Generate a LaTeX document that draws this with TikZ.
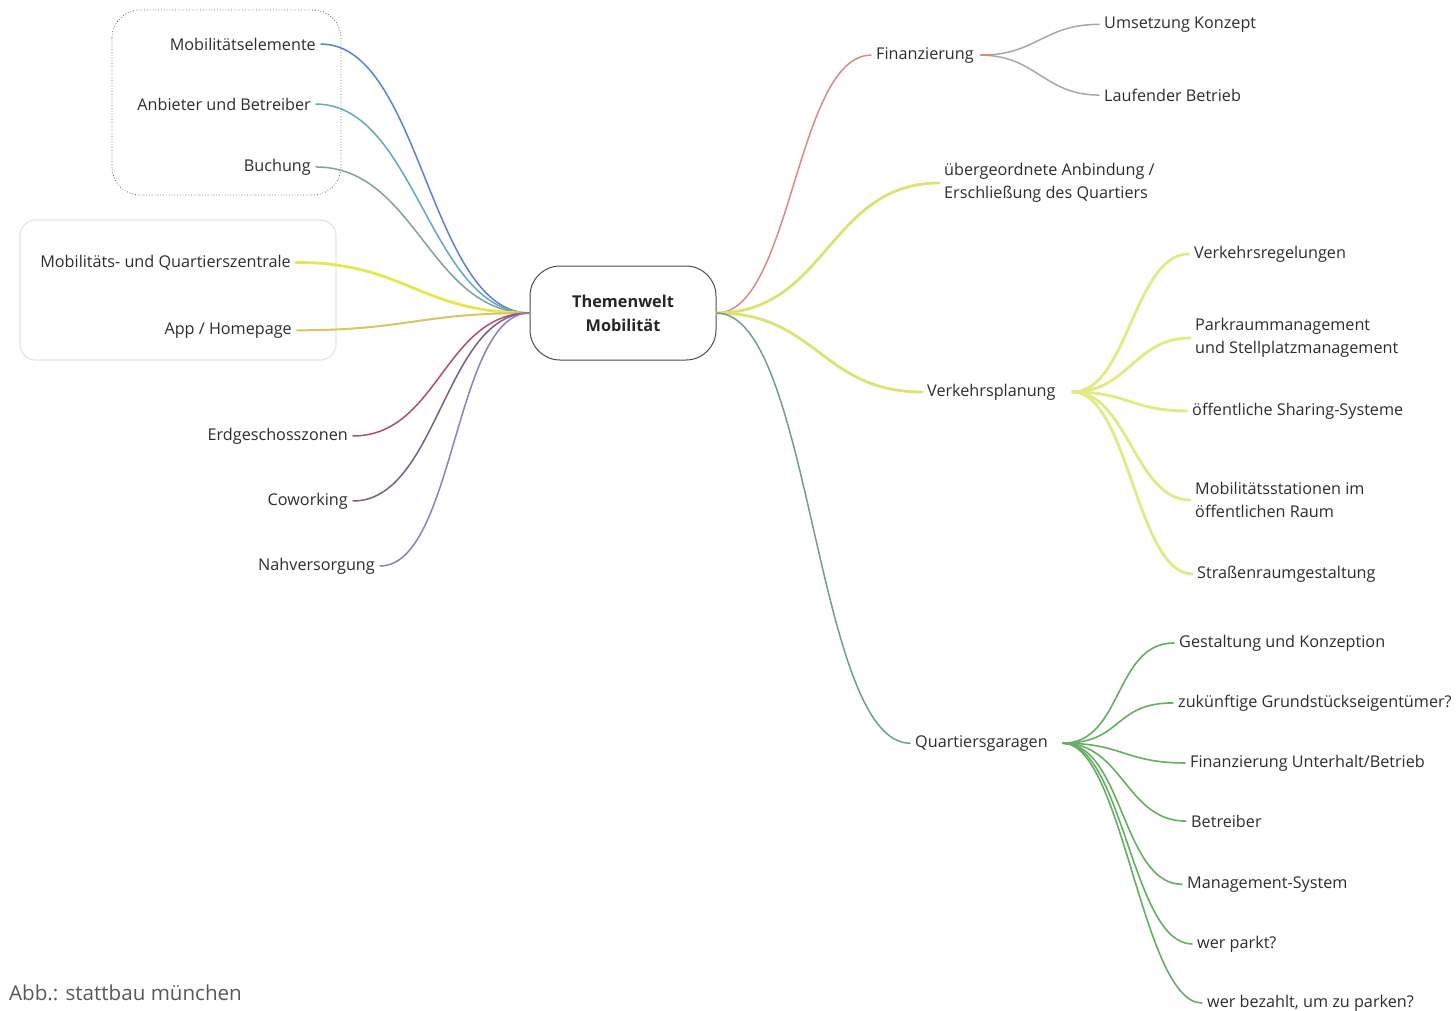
\documentclass[tikz,border=0pt]{standalone}
\usepackage{fontspec}
\setmainfont{Open Sans}
\begin{document}
\begin{tikzpicture}[x=1pt,y=-1pt,
  lbl/.style={font=\fontsize{16.2}{23}\selectfont, text=black!82, inner xsep=5pt, inner ysep=2pt, yshift=-3.5pt},
  lft/.style={lbl, anchor=mid east},
  rgt/.style={lbl, anchor=mid west},
  rgt2/.style={lbl, anchor=west, align=left, yshift=3.5pt},
  conn/.style={line width=1.5pt, line cap=round},
  thick2/.style={line width=2.8pt, line cap=round},
  ctr/.style={draw=black!70, line width=1pt, rounded corners=30pt, minimum width=186pt, minimum height=94pt, align=center, font=\fontsize{16.3}{24}\selectfont\bfseries, text=black!85}]
\definecolor{cblue}{HTML}{5C80D8}
\definecolor{cteal}{HTML}{62A9BC}
\definecolor{cgteal}{HTML}{82A0A0}
\definecolor{cyel}{HTML}{E6E650}
\definecolor{cyor}{HTML}{D9C466}
\definecolor{cred}{HTML}{B04D70}
\definecolor{cpur}{HTML}{7A5E88}
\definecolor{cpblue}{HTML}{8C80C4}
\definecolor{csalm}{HTML}{D98A8A}
\definecolor{cgray}{HTML}{A8A8A8}
\definecolor{cyg}{HTML}{DCE274}
\definecolor{cygl}{HTML}{E2EA84}
\definecolor{cqg}{HTML}{6FA088}
\definecolor{cgreen}{HTML}{66AE66}
\useasboundingbox (0,0) rectangle (1456,1011);
\fill[white] (0,0) rectangle (1456,1011);

% group boxes
\draw[dotted, black!60, line width=0.8pt, rounded corners=28pt] (112,10) rectangle (341,195);
\draw[black!10, line width=1.2pt, rounded corners=16pt] (20,220) rectangle (336,360);

% centre
\node[ctr] (c) at (623,313) {Themenwelt\\Mobilität};

% left labels
\node[lft] (l1) at (321,44) {Mobilitätselemente};
\node[lft] (l2) at (316,104) {Anbieter und Betreiber};
\node[lft] (l3) at (316,165) {Buchung};
\node[lft] (l4) at (296,261) {Mobilitäts- und Quartierszentrale};
\node[lft] (l5) at (297,328) {App / Homepage};
\node[lft] (l6) at (353,434) {Erdgeschosszonen};
\node[lft] (l7) at (353,499) {Coworking};
\node[lft] (l8) at (380,564) {Nahversorgung};

% right labels
\node[rgt] (fin) at (871,53) {Finanzierung};
\node[rgt] (umk) at (1099,22) {Umsetzung Konzept};
\node[rgt] (lb) at (1099,95) {Laufender Betrieb};
\node[rgt2] (ueb) at (939,183) {übergeordnete Anbindung /\\Erschließung des Quartiers};
\node[rgt] (vp) at (922,390) {Verkehrsplanung};
\node[rgt] (vr) at (1189,252) {Verkehrsregelungen};
\node[rgt2] (pm) at (1190,338) {Parkraummanagement\\und Stellplatzmanagement};
\node[rgt] (os) at (1187,409) {öffentliche Sharing-Systeme};
\node[rgt2] (ms) at (1190,500) {Mobilitätsstationen im\\öffentlichen Raum};
\node[rgt] (sr) at (1192,572) {Straßenraumgestaltung};
\node[rgt] (qg) at (910,741) {Quartiersgaragen};
\node[rgt] (g1) at (1174,641) {Gestaltung und Konzeption};
\node[rgt] (g2) at (1173,701) {zukünftige Grundstückseigentümer?};
\node[rgt] (g3) at (1185,761) {Finanzierung Unterhalt/Betrieb};
\node[rgt] (g4) at (1186,821) {Betreiber};
\node[rgt] (g5) at (1182,882) {Management-System};
\node[rgt] (g6) at (1192,942) {wer parkt?};
\node[rgt] (g7) at (1202,1001) {wer bezahlt, um zu parken?};

\node[anchor=west, inner sep=0pt, text=black!65, font=\fontsize{20.6}{24}\selectfont] (cap) at (9,993) {Abb.: stattbau münchen};

% left connectors
\draw[conn, cblue] (c.west) .. controls +(-100,0) and +(100,0) .. (l1.east);
\draw[conn, cteal] (c.west) .. controls +(-100,0) and +(100,0) .. (l2.east);
\draw[conn, cgteal] (c.west) .. controls +(-100,0) and +(100,0) .. (l3.east);
\draw[thick2, cyel] (c.west) .. controls +(-110,0) and +(110,0) .. (l4.east);
\draw[conn, cyor, line width=2pt] (c.west) .. controls +(-110,0) and +(110,0) .. (l5.east);
\draw[conn, cred] (c.west) .. controls +(-85,0) and +(85,0) .. (l6.east);
\draw[conn, cpur] (c.west) .. controls +(-85,0) and +(85,0) .. (l7.east);
\draw[conn, cpblue] (c.west) .. controls +(-75,0) and +(75,0) .. (l8.east);

% right connectors
\draw[conn, csalm] (c.east) .. controls +(75,0) and +(-75,0) .. (fin.west);
\draw[thick2, cyg] (c.east) .. controls +(110,0) and +(-110,0) .. (ueb.west);
\draw[thick2, cyg] (c.east) .. controls +(100,0) and +(-100,0) .. (vp.west);
\draw[conn, cqg] (c.east) .. controls +(95,0) and +(-95,0) .. (qg.west);

% Finanzierung children
\draw[conn, cgray] ([xshift=2pt]fin.east) .. controls +(55,0) and +(-55,0) .. (umk.west);
\draw[conn, cgray] ([xshift=2pt]fin.east) .. controls +(55,0) and +(-55,0) .. (lb.west);
\draw[conn, csalm!80!orange] ([xshift=2pt]fin.east) -- ++(12,0);

% Verkehrsplanung children
\foreach \t in {vr,pm,os,ms,sr}
  \draw[thick2, cygl] ([xshift=12pt]vp.east) .. controls +(55,0) and +(-55,0) .. (\t.west);

% Quartiersgaragen children
\foreach \t in {g1,g2,g3,g4,g5,g6,g7}
  \draw[conn, cgreen, line width=1.6pt] ([xshift=10pt]qg.east) .. controls +(60,0) and +(-60,0) .. (\t.west);
\end{tikzpicture}
\end{document}
